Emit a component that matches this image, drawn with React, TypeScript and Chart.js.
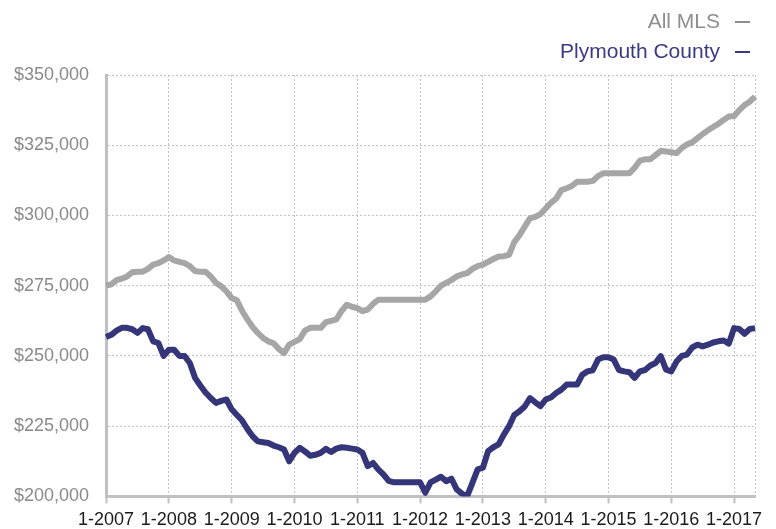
import React, { useEffect, useRef } from 'react';
import { Chart, registerables } from 'chart.js';

Chart.register(...registerables);

const START_YEAR = 2007;

// Median price, thousands of dollars, monthly from 1-2007
const allMlsK = [
  275.0, 275.5, 277.0, 277.5, 278.3, 279.8, 280.0, 280.0, 281.0, 282.5,
  283.0, 284.0, 285.2, 284.0, 283.5, 283.0, 282.0, 280.2, 280.0, 280.0,
  278.3, 276.0, 274.8, 273.0, 270.6, 269.8, 266.0, 263.0, 260.3, 258.2,
  256.4, 255.2, 254.5, 252.5, 251.0, 254.0, 255.0, 256.0, 259.0, 260.0,
  260.0, 260.0, 262.0, 262.5, 263.0, 266.0, 268.2, 267.5, 267.0, 266.0,
  266.5, 268.5, 270.0, 270.0, 270.0, 270.0, 270.0, 270.0, 270.0, 270.0,
  270.0, 270.0, 271.2, 273.0, 275.0, 276.0, 277.0, 278.3, 279.0, 279.5,
  281.0, 282.0, 282.5, 283.5, 284.5, 285.4, 285.5, 286.0, 290.5, 293.0,
  296.0, 299.0, 299.5, 300.5, 302.5, 304.5, 306.0, 309.0, 309.7, 310.5,
  312.0, 312.0, 312.0, 312.3, 314.0, 315.0, 315.0, 315.0, 315.0, 315.0,
  315.0, 317.0, 319.5, 320.0, 320.0, 321.5, 323.0, 322.8, 322.5, 322.2,
  324.0, 325.3, 326.0, 327.5, 329.0, 330.3, 331.5, 332.6, 334.0, 335.2,
  335.4, 337.5, 339.3, 340.5, 342.3,
];

const plymouthK = [
  256.7, 257.5, 259.0, 260.0, 260.0, 259.5, 258.2, 259.9, 259.5, 255.2,
  254.6, 250.0, 252.2, 252.2, 250.0, 250.0, 247.5, 242.2, 239.5, 237.0,
  235.0, 233.3, 234.0, 234.5, 231.0, 229.0, 227.0, 224.0, 221.4, 219.6,
  219.3, 219.0, 218.1, 217.5, 216.7, 212.5, 215.5, 217.3, 216.0, 214.5,
  214.8, 215.5, 216.9, 215.8, 217.0, 217.5, 217.3, 217.0, 216.7, 215.5,
  210.8, 211.9, 209.6, 207.8, 205.5, 205.0, 205.0, 205.0, 205.0, 205.0,
  205.0, 201.3, 205.0, 206.0, 207.0, 205.4, 206.3, 202.5, 201.0, 200.1,
  204.8, 209.6, 210.2, 216.1, 217.5, 218.5, 222.0, 225.0, 229.0, 230.3,
  232.0, 235.0, 233.5, 232.1, 234.5, 235.2, 236.8, 238.0, 239.8, 239.8,
  239.8, 243.3, 244.5, 244.9, 248.7, 249.5, 249.5, 248.7, 245.0, 244.5,
  244.2, 242.2, 244.5, 245.0, 246.6, 247.5, 249.9, 245.1, 244.5, 248.0,
  250.0, 250.5, 253.0, 254.0, 253.4, 254.0, 254.8, 255.2, 255.5, 254.4,
  259.9, 259.6, 257.9, 259.6, 259.9,
];

const months = allMlsK.map((_, i) => `${(i % 12) + 1}-${START_YEAR + Math.floor(i / 12)}`);

const seriesNames = ['All MLS', 'Plymouth County'];
const seriesColors = ['#a6a6a6', '#35357a'];
const legendTextColors = ['#8e8e8e', '#3a3a82'];

const Y_MIN = 200000;
const Y_MAX = 350000;
const Y_STEP = 25000;

const FONT = '"Liberation Sans", Arial, Helvetica, sans-serif';

export default function App() {
  const canvasRef = useRef<HTMLCanvasElement | null>(null);

  useEffect(() => {
    if (!canvasRef.current) return;
    const last = months.length - 1;
    const chart = new Chart(canvasRef.current, {
      type: 'line',
      data: {
        labels: months,
        datasets: [
          {
            label: seriesNames[0],
            data: allMlsK.map((v) => v * 1000),
            borderColor: seriesColors[0],
            backgroundColor: seriesColors[0],
            borderWidth: 6,
            pointRadius: 0,
            tension: 0,
            borderJoinStyle: 'round',
            borderCapStyle: 'butt',
          },
          {
            label: seriesNames[1],
            data: plymouthK.map((v) => v * 1000),
            borderColor: seriesColors[1],
            backgroundColor: seriesColors[1],
            borderWidth: 6,
            pointRadius: 0,
            tension: 0,
            borderJoinStyle: 'round',
            borderCapStyle: 'butt',
          },
        ],
      },
      options: {
        animation: false,
        responsive: true,
        maintainAspectRatio: false,
        layout: { padding: { top: 75, right: 21, left: 1, bottom: 0 } },
        plugins: {
          legend: { display: false },
          tooltip: { enabled: false },
        },
        scales: {
          x: {
            type: 'category',
            border: { color: '#c0c0c0', width: 3, dash: [2, 2] },
            grid: {
              color: (ctx: any) =>
                ctx.index % 12 === 0 || ctx.index === last ? '#c4c4c4' : 'rgba(0,0,0,0)',
              lineWidth: 1,
              drawTicks: true,
              tickLength: 7,
              tickWidth: 2,
              tickBorderDash: [],
              tickColor: (ctx: any) =>
                ctx.index % 12 === 0 ? '#c0c0c0' : 'rgba(0,0,0,0)',
            },
            ticks: {
              autoSkip: false,
              maxRotation: 0,
              minRotation: 0,
              padding: 6,
              color: '#1a1a1a',
              font: { family: FONT, size: 18 },
              callback: (_v: any, i: number) => (i % 12 === 0 ? months[i] : ''),
            },
          },
          y: {
            min: Y_MIN,
            max: Y_MAX,
            border: { color: '#c0c0c0', width: 3, dash: [2, 2] },
            grid: {
              color: '#c4c4c4',
              lineWidth: 1,
              drawTicks: false,
            },
            ticks: {
              stepSize: Y_STEP,
              padding: 17,
              color: '#8a8a8a',
              font: { family: FONT, size: 18 },
              callback: (v: any) => '$' + Number(v).toLocaleString('en-US'),
            },
          },
        },
      },
    });
    return () => chart.destroy();
  }, []);

  return (
    <div
      style={{
        position: 'absolute',
        left: 0,
        top: 0,
        width: 776,
        height: 529,
        overflow: 'hidden',
        background: '#fff',
      }}
    >
      <div style={{ position: 'absolute', left: -4, top: 0, width: 780, height: 537 }}>
        <canvas ref={canvasRef} />
      </div>
      <div
        style={{
          position: 'absolute',
          right: 26,
          top: 8,
          fontFamily: FONT,
          fontSize: 21,
          lineHeight: '25px',
          textAlign: 'right',
        }}
      >
        {seriesNames.map((name, i) => (
          <div
            key={name}
            style={{
              display: 'flex',
              justifyContent: 'flex-end',
              alignItems: 'center',
              color: legendTextColors[i],
              marginBottom: i === 0 ? 5 : 0,
            }}
          >
            <span>{name}</span>
            <span
              style={{
                display: 'inline-block',
                width: 15,
                height: 2,
                marginLeft: 15,
                marginTop: 3,
                background: legendTextColors[i],
              }}
            />
          </div>
        ))}
      </div>
    </div>
  );
}
